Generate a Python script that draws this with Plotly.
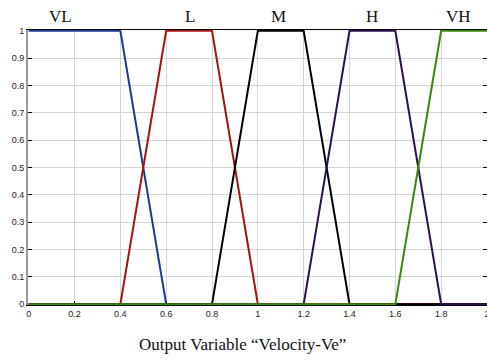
import plotly.graph_objects as go

# Membership function breakpoints (x) and degrees (y)
names = ["VL", "L", "M", "H", "VH"]
mf_x = [
    [0, 0.4, 0.6, 2],
    [0, 0.4, 0.6, 0.8, 1.0, 2],
    [0, 0.8, 1.0, 1.2, 1.4, 2],
    [0, 1.2, 1.4, 1.6, 1.8, 2],
    [0, 1.6, 1.8, 2],
]
mf_y = [
    [1, 1, 0, 0],
    [0, 0, 1, 1, 0, 0],
    [0, 0, 1, 1, 0, 0],
    [0, 0, 1, 1, 0, 0],
    [0, 0, 1, 1],
]
colors = ["#1a3a96", "#a5120e", "#000000", "#2e0f4f", "#3a8a0a"]
label_x = [0.14, 0.705, 1.09, 1.50, 1.875]

x_ticks = [0, 0.2, 0.4, 0.6, 0.8, 1.0, 1.2, 1.4, 1.6, 1.8, 2.0]
x_ticktext = ["0", "0.2", "0.4", "0.6", "0.8", "1", "1.2", "1.4", "1.6", "1.8", "2"]
y_ticks = [0, 0.1, 0.2, 0.3, 0.4, 0.5, 0.6, 0.7, 0.8, 0.9, 1.0]
y_ticktext = ["0", "0.1", "0.2", "0.3", "0.4", "0.5", "0.6", "0.7", "0.8", "0.9", "1"]

fig = go.Figure()
for n, xs, ys, c in zip(names, mf_x, mf_y, colors):
    fig.add_trace(go.Scatter(x=xs, y=ys, mode="lines", name=n,
                             line=dict(color=c, width=2), showlegend=False,
                             cliponaxis=False))

for n, lx in zip(names, label_x):
    fig.add_annotation(x=lx, y=1.0, xref="x", yref="paper", text=n,
                       showarrow=False, yanchor="bottom", yshift=2,
                       font=dict(family="Liberation Serif", size=17, color="#111"))

fig.add_annotation(x=0.468, y=-0.10, xref="paper", yref="paper",
                   text="Output Variable \u201cVelocity-Ve\u201d", showarrow=False,
                   yanchor="top",
                   font=dict(family="Liberation Serif", size=17, color="#111"))

fig.update_layout(
    width=487, height=360,
    margin=dict(l=28, r=0, t=30, b=55, autoexpand=False),
    paper_bgcolor="white", plot_bgcolor="white",
    font=dict(family="Liberation Sans", size=9, color="#222"),
)
fig.update_xaxes(range=[-0.003, 2], tickvals=x_ticks, ticktext=x_ticktext,
                 showgrid=True, gridcolor="#d4d4d4", gridwidth=1,
                 zeroline=False, showline=True, linecolor="#000", linewidth=1,
                 mirror=True, ticks="inside", ticklen=4, tickcolor="#000",
                 fixedrange=True, automargin=False, layer="below traces",
                 ticklabeloverflow="allow")
fig.update_yaxes(range=[-0.003, 1.003], tickvals=y_ticks, ticktext=y_ticktext,
                 showgrid=True, gridcolor="#d4d4d4", gridwidth=1,
                 zeroline=False, showline=True, linecolor="#999", linewidth=2,
                 mirror="ticks", ticks="inside", ticklen=4, tickcolor="#000",
                 fixedrange=True, automargin=False, layer="below traces")

fig.write_html("out.html", config={"displayModeBar": False},
               post_script="document.body.style.margin='0';document.body.style.overflow='hidden';")
